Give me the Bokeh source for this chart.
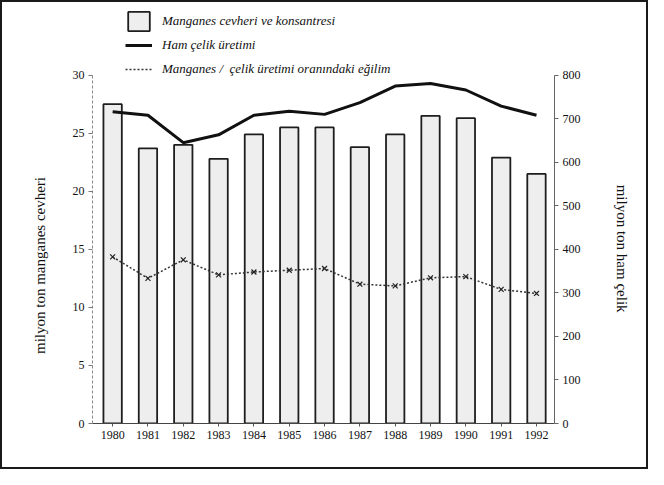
import math
from bokeh.plotting import figure
from bokeh.models import (Range1d, LinearAxis, FixedTicker, Legend, LegendItem)
from bokeh.embed import file_html
from bokeh.resources import INLINE

years = [1980, 1981, 1982, 1983, 1984, 1985, 1986, 1987, 1988, 1989, 1990, 1991, 1992]
manganese_ore = [27.5, 23.7, 24.0, 22.8, 24.9, 25.5, 25.5, 23.8, 24.9, 26.5, 26.3, 22.9, 21.5]
crude_steel = [716, 708, 645, 663, 708, 717, 710, 737, 775, 781, 766, 729, 708]
ratio_trend = [14.35, 12.5, 14.1, 12.8, 13.05, 13.2, 13.35, 12.0, 11.85, 12.55, 12.65, 11.55, 11.2]

left_ticks = [0, 5, 10, 15, 20, 25, 30]
right_ticks = [0, 100, 200, 300, 400, 500, 600, 700, 800]
left_max = 30
right_max = 800
headroom = 417 / 345  # space above the axes for the legend

SERIF = "Liberation Serif"
NBSP = "\u00a0"

p = figure(width=648, height=469, output_backend="svg", toolbar_location=None,
           x_range=Range1d(1979.43, 1992.51), y_range=Range1d(0, left_max * headroom),
           min_border_left=90, min_border_right=96, min_border_top=0, min_border_bottom=48)
p.styles = {"border": "2px solid #1a1a1a"}
p.outline_line_color = None
p.xgrid.grid_line_color = None
p.ygrid.grid_line_color = None
p.background_fill_color = "white"
p.border_fill_color = "white"

p.extra_y_ranges = {"steel": Range1d(0, right_max * headroom)}

bars = p.vbar(x=years, top=manganese_ore, width=0.52, bottom=0,
              fill_color="#eeeeee", line_color="#1e1e1e", line_width=1.8)
steel = p.line(x=years, y=crude_steel, y_range_name="steel",
               line_color="#111111", line_width=3)
ratio = p.line(x=years, y=ratio_trend, line_color="#333333", line_width=1.5,
               line_dash="2 2")
p.scatter(x=years, y=ratio_trend, marker="x", size=7, line_color="#222222", line_width=1.2)

def style_axis(ax):
    ax.major_label_text_font = SERIF
    ax.major_label_text_font_size = "12px"
    ax.major_label_text_color = "#111111"
    ax.axis_label_text_font = SERIF
    ax.axis_label_text_font_size = "15px"
    ax.axis_label_text_font_style = "normal"
    ax.axis_label_text_color = "#111111"
    ax.minor_tick_line_color = None
    ax.major_tick_in = 0
    ax.major_tick_out = 4
    ax.major_label_standoff = 4

xa = p.xaxis[0]
style_axis(xa)
xa.ticker = FixedTicker(ticks=years)
xa.axis_line_color = "#444444"
xa.axis_line_width = 1.2
xa.major_tick_line_color = "#555555"
xa.major_tick_out = 3

# axis titles are centred on the (taller) frame; no-break spaces move
# the visible words down to the middle of the 0-30 / 0-800 scale
ya = p.yaxis[0]
style_axis(ya)
ya.ticker = FixedTicker(ticks=left_ticks)
ya.bounds = (0, left_max)
ya.axis_label = "milyon ton manganes cevheri" + NBSP * 28
ya.axis_label_standoff = 22
ya.axis_line_color = "#888888"
ya.axis_line_dash = "3 2"
ya.major_tick_line_color = "#777777"

ra = LinearAxis(y_range_name="steel", axis_label=NBSP * 19 + "milyon ton ham çelik")
style_axis(ra)
ra.ticker = FixedTicker(ticks=right_ticks)
ra.bounds = (0, right_max)
ra.axis_label_standoff = 30
ra.axis_line_color = "#666666"
ra.major_tick_line_color = "#666666"
p.add_layout(ra, "right")

legend = Legend(items=[
    LegendItem(label="Manganes cevheri ve konsantresi", renderers=[bars]),
    LegendItem(label="Ham çelik üretimi", renderers=[steel]),
    LegendItem(label="Manganes /  çelik üretimi oranındaki eğilim", renderers=[ratio]),
], location=(33, 342))
legend.label_text_font = SERIF
legend.label_text_font_style = "italic"
legend.label_text_font_size = "13px"
legend.label_text_color = "#111111"
legend.glyph_width = 27
legend.glyph_height = 24
legend.spacing = 0
legend.padding = 0
legend.margin = 0
legend.label_standoff = 10
legend.border_line_color = None
legend.background_fill_alpha = 0
p.add_layout(legend, "center")

open("out.html", "w").write(file_html(p, INLINE))
